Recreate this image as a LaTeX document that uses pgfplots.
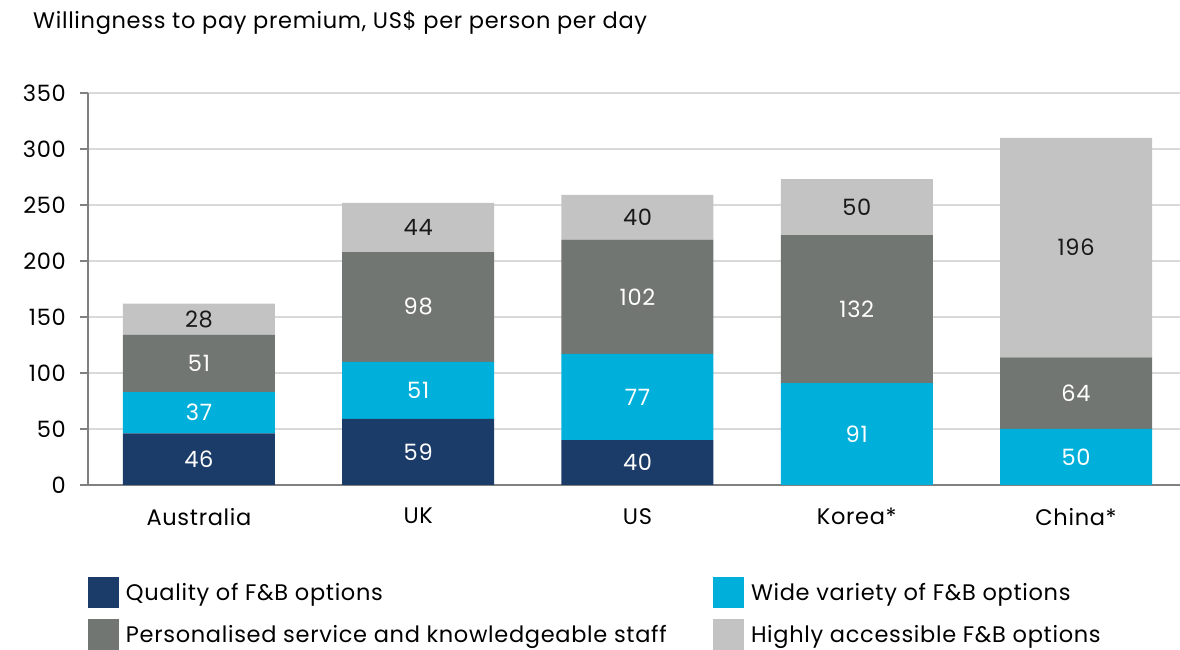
\documentclass[border=0pt]{standalone}
\usepackage{pgfplots}
\pgfplotsset{compat=1.18}
\usepackage{fontspec}
\setmainfont[LetterSpace=3]{Poppins}
\definecolor{cNavy}{HTML}{1B3C69}
\definecolor{cCyan}{HTML}{00B0DA}
\definecolor{cDark}{HTML}{727672}
\definecolor{cLight}{HTML}{C2C3C2}
\definecolor{cGrid}{HTML}{D9D9D9}
\definecolor{cAxis}{HTML}{808080}
\newcommand{\fs}{\fontsize{22.5}{26}\selectfont}
\begin{document}
\begin{tikzpicture}[x=1pt,y=1pt]
\path[use as bounding box] (0,0) rectangle (1180,650);
\node[anchor=base west, font=\fs, inner sep=0pt] at (33,621) {Willingness to pay premium, US\$ per person per day};
\begin{axis}[
  at={(88pt,165pt)}, anchor=south west,
  scale only axis, width=1092pt, height=392pt,
  ymin=0, ymax=350, ytick={0,50,...,350},
  xmin=-0.506, xmax=4.474,
  xtick={0,...,4}, xticklabels={Australia,UK,US,Korea*,China*},
  ybar stacked, bar width=152pt,
  axis x line*=bottom, axis y line*=left,
  axis line style={cAxis, line width=1.5pt},
  ymajorgrids, grid style={cGrid, line width=1.2pt},
  tick align=outside, major tick length=8pt,
  ytick style={cAxis, line width=1.5pt},
  xtick style={draw=none},
  tick label style={font=\fs, text=black},
  /pgf/number format/assume math mode=true,
  yticklabel style={anchor=east, inner sep=0pt, xshift=-14pt},
  xticklabel style={anchor=north, inner sep=0pt, yshift=-15pt},
  clip=false,
  point meta=explicit symbolic,
  nodes near coords={\pgfplotspointmeta},
  every node near coord/.style={anchor=center, font=\fs, white},
  legend columns=2,
  legend cell align=left,
  legend style={draw=none, fill=none, inner sep=0pt, outer sep=0pt,
     at={(rel axis cs:0,0)}, anchor=north west, yshift=-92pt,
     font=\fs, row sep=11pt, nodes={inner sep=0pt},
     /tikz/every odd column/.append style={column sep=7pt},
     /tikz/every even column/.append style={column sep=27pt}},
  legend image code/.code={\path[#1, draw=none] (0pt,-15.5pt) rectangle (31pt,15.5pt);},
]
\addplot[fill=cNavy, draw=none] coordinates {(0,46) [46] (1,59) [59] (2,40) [40] (3,0) [] (4,0) []};
\addplot[fill=cCyan, draw=none] coordinates {(0,37) [37] (1,51) [51] (2,77) [77] (3,91) [91] (4,50) [50]};
\addplot[fill=cDark, draw=none] coordinates {(0,51) [51] (1,98) [98] (2,102) [102] (3,132) [132] (4,64) [64]};
\addplot[fill=cLight, draw=none, every node near coord/.append style={text=black!90}] coordinates {(0,28) [28] (1,44) [44] (2,40) [40] (3,50) [50] (4,196) [196]};
\addlegendentry{\makebox[560pt][l]{Quality of F\&B options}}
\addlegendentry{Wide variety of F\&B options}
\addlegendentry{\makebox[560pt][l]{Personalised service and knowledgeable staff}}
\addlegendentry{Highly accessible F\&B options}
\end{axis}
\end{tikzpicture}
\end{document}
